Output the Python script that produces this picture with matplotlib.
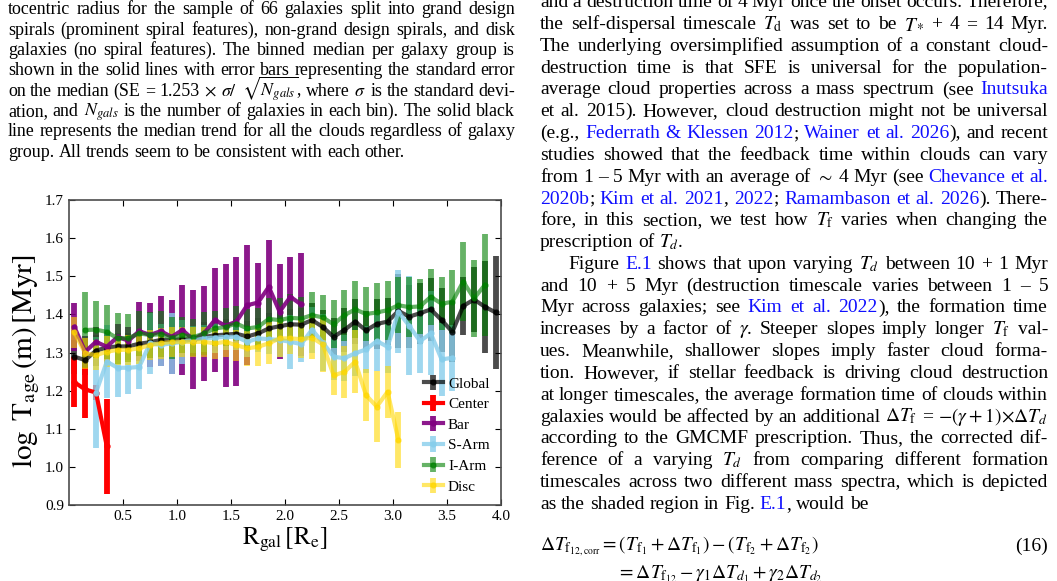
import numpy as np
import matplotlib
matplotlib.use("Agg")
import matplotlib.pyplot as plt

plt.rcParams['font.family'] = ['Liberation Serif', 'DejaVu Serif']
plt.rcParams['mathtext.fontset'] = 'stix'

W, H = 1057, 581

# radial bin centres [R_e]
bins = [0.05, 0.15, 0.25, 0.35, 0.45, 0.55, 0.65, 0.75, 0.85, 0.95,
        1.05, 1.15, 1.25, 1.35, 1.45, 1.55, 1.65, 1.75, 1.85, 1.95,
        2.05, 2.15, 2.25, 2.35, 2.45, 2.55, 2.65, 2.75, 2.85, 2.95,
        3.05, 3.15, 3.25, 3.35, 3.45, 3.55, 3.65, 3.75, 3.85, 3.95]

# binned medians (log T_age) and standard errors per group
global_med = [1.289, 1.280, 1.305, 1.313, 1.316, 1.316, 1.323, 1.327, 1.333, 1.332,
              1.335, 1.333, 1.341, 1.345, 1.347, 1.349, 1.342, 1.350, 1.363, 1.369,
              1.374, 1.373, 1.385, 1.367, 1.341, 1.359, 1.381, 1.358, 1.375, 1.381,
              1.409, 1.394, 1.403, 1.413, 1.385, 1.354, 1.422, 1.439, 1.420, 1.405]
global_err = [0.045, 0.040, 0.040, 0.040, 0.035, 0.035, 0.035, 0.035, 0.035, 0.035,
              0.035, 0.035, 0.040, 0.040, 0.040, 0.040, 0.040, 0.040, 0.040, 0.040,
              0.040, 0.045, 0.045, 0.045, 0.050, 0.057, 0.060, 0.050, 0.066, 0.061,
              0.097, 0.083, 0.080, 0.083, 0.083, 0.080, 0.075, 0.085, 0.120, 0.148]

center_med = [1.222, 1.203, 1.195, 1.054]
center_err = [0.065, 0.076, 0.020, 0.124]

bar_med = [1.367, 1.302, 1.328, 1.315, 1.341, 1.331, 1.356, 1.346, 1.356, 1.341,
           1.359, 1.334, 1.350, 1.385, 1.370, 1.381, 1.424, 1.431, 1.472, 1.407,
           1.446, 1.426]
bar_err = [0.062, 0.040, 0.040, 0.035, 0.035, 0.035, 0.077, 0.083, 0.092, 0.097,
           0.118, 0.130, 0.125, 0.137, 0.161, 0.170, 0.158, 0.105, 0.123, 0.124,
           0.105, 0.136]

sarm_med = [1.195, 1.276, 1.260, 1.260, 1.262, 1.324, 1.320, 1.324, 1.328, 1.334,
            1.337, 1.339, 1.341, 1.341, 1.328, 1.337, 1.335, 1.333, 1.328, 1.322,
            1.360, 1.326, 1.289, 1.285, 1.298, 1.308, 1.330, 1.315, 1.407, 1.370,
            1.330, 1.350, 1.282, 1.286]
sarm_err = [0.145, 0.095, 0.078, 0.070, 0.058, 0.080, 0.055, 0.080, 0.057, 0.035,
            0.035, 0.040, 0.035, 0.035, 0.040, 0.035, 0.040, 0.045, 0.070, 0.048,
            0.060, 0.075, 0.060, 0.060, 0.060, 0.062, 0.079, 0.070, 0.109, 0.130,
            0.084, 0.110, 0.095, 0.087]

iarm_med = [1.359, 1.360, 1.354, 1.337, 1.338, 1.350, 1.346, 1.348, 1.338, 1.346,
            1.340, 1.350, 1.363, 1.367, 1.376, 1.363, 1.367, 1.388, 1.385, 1.391,
            1.389, 1.398, 1.392, 1.374, 1.398, 1.413, 1.401, 1.405, 1.411, 1.424,
            1.419, 1.421, 1.446, 1.428, 1.433, 1.486, 1.442, 1.477]
iarm_err = [0.100, 0.075, 0.070, 0.066, 0.063, 0.060, 0.060, 0.060, 0.055, 0.048,
            0.048, 0.056, 0.047, 0.050, 0.045, 0.050, 0.050, 0.055, 0.058, 0.062,
            0.057, 0.060, 0.060, 0.063, 0.067, 0.075, 0.070, 0.078, 0.077, 0.073,
            0.078, 0.073, 0.074, 0.069, 0.083, 0.104, 0.101, 0.134]

disc_med = [1.353, 1.298, 1.293, 1.302, 1.307, 1.307, 1.311, 1.320, 1.324, 1.328,
            1.328, 1.328, 1.328, 1.324, 1.328, 1.319, 1.311, 1.315, 1.324, 1.337,
            1.337, 1.335, 1.339, 1.321, 1.240, 1.249, 1.276, 1.188, 1.158, 1.197,
            1.070]
disc_err = [0.040, 0.040, 0.040, 0.040, 0.040, 0.040, 0.040, 0.040, 0.040, 0.040,
            0.040, 0.040, 0.040, 0.040, 0.040, 0.040, 0.046, 0.050, 0.055, 0.050,
            0.040, 0.050, 0.056, 0.072, 0.052, 0.068, 0.083, 0.068, 0.094, 0.068,
            0.074]

groups = [
    # name, first bin index, medians, errors, colour, alpha
    ("Global", 0, global_med, global_err, "black", 0.7),
    ("Center", 0, center_med, center_err, "red", 1.0),
    ("Bar", 0, bar_med, bar_err, "purple", 0.9),
    ("S-Arm", 2, sarm_med, sarm_err, "skyblue", 0.8),
    ("I-Arm", 1, iarm_med, iarm_err, "green", 0.6),
    ("Disc", 0, disc_med, disc_err, "gold", 0.6),
]

xticks = [0.5, 1.0, 1.5, 2.0, 2.5, 3.0, 3.5, 4.0]
yticks = [0.9, 1.0, 1.1, 1.2, 1.3, 1.4, 1.5, 1.6, 1.7]

fig = plt.figure(figsize=(W / 100, H / 100), dpi=100)

# ---------------- the chart ----------------
ax = fig.add_axes([69 / W, 1 - 505 / H, 432 / W, 305 / H])
for name, i0, med, err, col, a in groups:
    x = bins[i0:i0 + len(med)]
    ax.errorbar(x, med, yerr=err, color=col, alpha=a, lw=3, elinewidth=4.2,
                marker='o', ms=3.5, capsize=0, label=name)

ax.set_xlim(0, 4.0)
ax.set_ylim(0.9, 1.7)
ax.set_xticks(xticks)
ax.set_xticklabels(["%.1f" % v for v in xticks])
ax.set_yticks(yticks)
ax.set_yticklabels(["%.1f" % v for v in yticks])
ax.tick_params(direction='in', top=True, right=True, labelsize=11, length=4)
for s in ax.spines.values():
    s.set_color('0.3')
    s.set_linewidth(1.2)
ax.set_xlabel(r'$\mathrm{R_{gal}}\,\left[\mathrm{R_e}\right]$', fontsize=18, labelpad=2)
ax.set_ylabel(r'$\log\ \mathrm{T_{age}}\,(\mathrm{m})\,[\mathrm{Myr}]$',
              fontsize=21, labelpad=2)
ax.yaxis.label.set_y(0.47)
ax.legend(loc='lower right', frameon=False, fontsize=11, handlelength=1.2,
          handletextpad=0.35, labelspacing=0.45, borderaxespad=0.35)

# ---------------- the page text around it ----------------
rend = fig.canvas.get_renderer()


def split_words(line):
    words, buf, in_math = [], '', False
    for ch in line:
        if ch == '$':
            in_math = not in_math
        if ch == ' ' and not in_math:
            if buf:
                words.append(buf)
            buf = ''
        else:
            buf += ch
    if buf:
        words.append(buf)
    return words


def put_line(line, x0, x1, base, size, justify=True):
    blue = False
    items = []
    for w in split_words(line):
        pieces, buf = [], ''
        for ch in w:
            if ch in '[]':
                if buf:
                    pieces.append((buf, blue))
                buf = ''
                blue = ch == '['
            else:
                buf += ch
        if buf:
            pieces.append((buf, blue))
        arts = []
        for s, b in pieces:
            t = fig.text(0, 1 - base / H, s, fontsize=size, va='baseline',
                         color='#1010ff' if b else 'black')
            arts.append((t, t.get_window_extent(rend).width))
        items.append(arts)
    widths = [sum(wd for _, wd in arts) for arts in items]
    if justify and len(items) > 1:
        gap = (x1 - x0 - sum(widths)) / (len(items) - 1)
    else:
        gap = 0.25 * size * 100 / 72
    x = x0
    for arts, wd in zip(items, widths):
        xx = x
        for t, w1 in arts:
            t.set_x(xx / W)
            xx += w1
        x += wd + gap


caption = [
    "tocentric radius for the sample of 66 galaxies split into grand design",
    "spirals (prominent spiral features), non-grand design spirals, and disk",
    "galaxies (no spiral features). The binned median per galaxy group is",
    "shown in the solid lines with error bars representing the standard error",
    r"on the median (SE = 1.253 $\times$ $\sigma/$ $\sqrt{N_{gals}}$, where $\sigma$ is the standard devi-",
    r"ation, and $N_{gals}$ is the number of galaxies in each bin). The solid black",
    "line represents the median trend for all the clouds regardless of galaxy",
    "group. All trends seem to be consistent with each other.",
]
for k, line in enumerate(caption):
    put_line(line, 8, 515, 14.5 + 20.3 * k, 12.9, justify=k < len(caption) - 1)

body = [
    "and a destruction time of 4 Myr once the onset occurs. Therefore,",
    r"the self-dispersal timescale $T_\mathrm{d}$ was set to be $T_*$ + 4 = 14 Myr.",
    "The underlying oversimplified assumption of a constant cloud-",
    "destruction time is that SFE is universal for the population-",
    "average cloud properties across a mass spectrum (see [Inutsuka",
    "et al. 2015]). However, cloud destruction might not be universal",
    "(e.g., [Federrath & Klessen 2012]; [Wainer et al. 2026]), and recent",
    "studies showed that the feedback time within clouds can vary",
    r"from 1 – 5 Myr with an average of $\sim$ 4 Myr (see [Chevance et al.]",
    "[2020b]; [Kim et al. 2021], [2022]; [Ramambason et al. 2026]). There-",
    r"fore, in this section, we test how $T_\mathrm{f}$ varies when changing the",
    r"prescription of $T_d$.",
    r"Figure [E.1] shows that upon varying $T_d$ between 10 + 1 Myr",
    "and 10 + 5 Myr (destruction timescale varies between 1 – 5",
    "Myr across galaxies; see [Kim et al. 2022]), the formation time",
    r"increases by a factor of $\gamma$. Steeper slopes imply longer $T_\mathrm{f}$ val-",
    "ues. Meanwhile, shallower slopes imply faster cloud forma-",
    "tion. However, if stellar feedback is driving cloud destruction",
    "at longer timescales, the average formation time of clouds within",
    r"galaxies would be affected by an additional $\Delta T_\mathrm{f}$ = $-(\gamma+1){\times}\Delta T_d$",
    "according to the GMCMF prescription. Thus, the corrected dif-",
    r"ference of a varying $T_d$ from comparing different formation",
    "timescales across two different mass spectra, which is depicted",
    "as the shaded region in Fig. [E.1], would be",
]
for k, line in enumerate(body):
    x0 = 568 if k == 12 else 540
    put_line(line, x0, 1048, 7.3 + 21.8 * k, 14.0, justify=k not in (11, 23))

fig.text(540 / W, 1 - 551 / H,
         r"$\Delta T_{\mathrm{f}_{12,\mathrm{corr}}} = (T_{\mathrm{f}_1} + \Delta T_{\mathrm{f}_1})"
         r" - (T_{\mathrm{f}_2} + \Delta T_{\mathrm{f}_2})$",
         fontsize=14.0, va='baseline')
fig.text(1048 / W, 1 - 551 / H, "(16)", fontsize=14.0, va='baseline', ha='right')
fig.text(617 / W, 1 - 578 / H,
         r"$= \Delta T_{\mathrm{f}_{12}} - \gamma_1 \Delta T_{d_1} + \gamma_2 \Delta T_{d_2}$",
         fontsize=14.0, va='baseline')

fig.savefig("out.png", dpi=100)
